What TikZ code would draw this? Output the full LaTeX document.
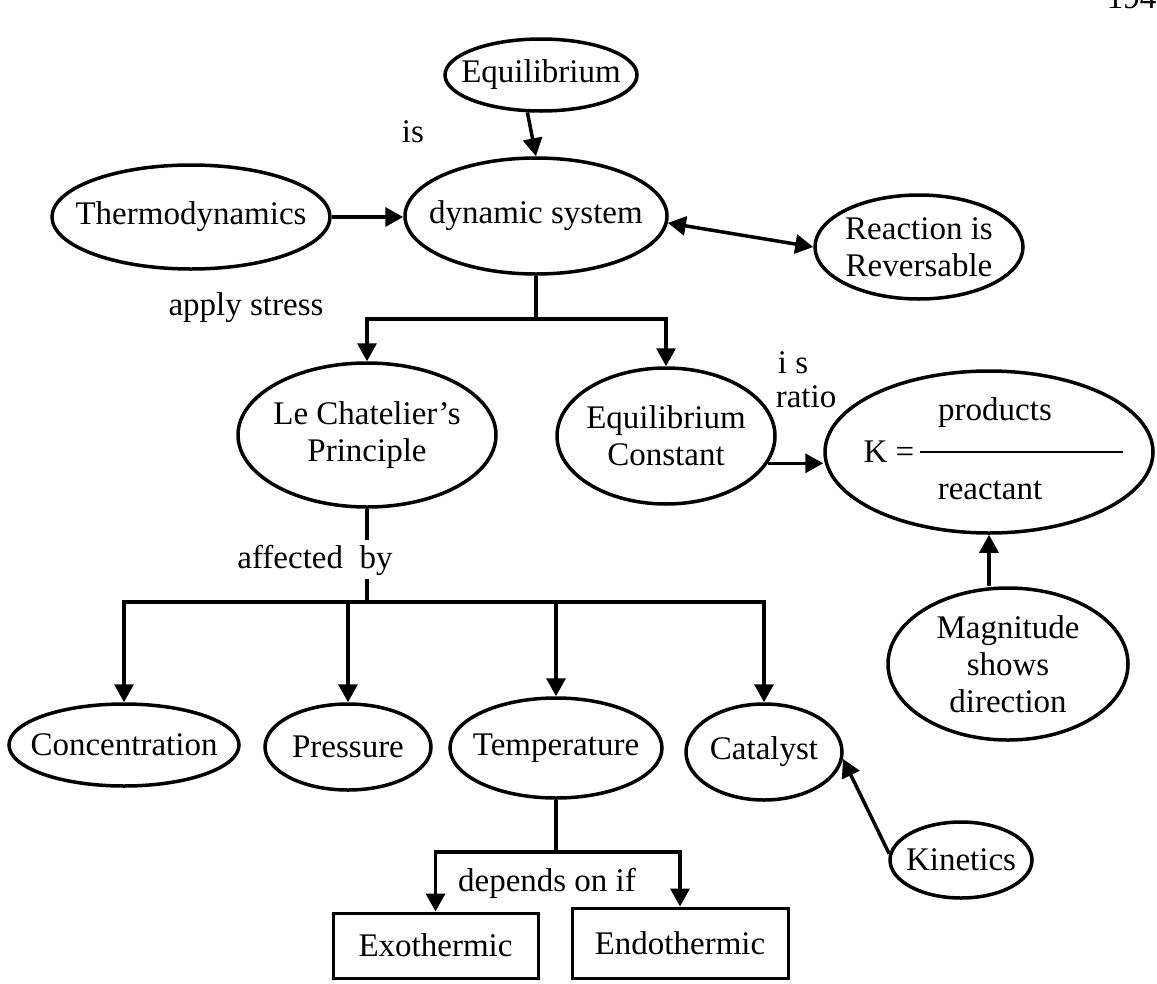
\documentclass[tikz,border=0pt]{standalone}
\usepackage{fontspec}
\setmainfont{Liberation Serif}
\usetikzlibrary{shapes.geometric,arrows.meta,calc}

\begin{document}
\begin{tikzpicture}[x=1pt,y=-1pt,
  every node/.style={font=\fontsize{33}{37}\selectfont},
  oval/.style={ellipse,draw,line width=3.5pt,inner sep=0pt},
  txt/.style={inner sep=0pt,align=center},
  rbox/.style={rectangle,draw,line width=3pt,inner sep=0pt},
  conn/.style={line width=3.5pt},
  arr/.style={conn,-{Triangle[length=18pt,width=19pt]}},
  darr/.style={conn,{Triangle[length=18pt,width=19pt]}-{Triangle[length=18pt,width=19pt]}}]

\useasboundingbox (0,0) rectangle (1157,983);
\fill[white] (0,0) rectangle (1157,983);

% page number, mostly above the page edge
\node[anchor=base east] (pg) at (1160,8) {194};

% ovals (fixed outlines) with their texts
\node[oval,minimum width=192pt,minimum height=72pt]  (eq)     at (541,75)  {};
\node[txt] (eq-t) at (eq) {Equilibrium};
\node[oval,minimum width=278pt,minimum height=104pt] (thermo) at (191,217) {};
\node[txt] (thermo-t) at (thermo) {Thermodynamics};
\node[oval,minimum width=262pt,minimum height=116pt] (dyn)    at (536,216) {};
\node[txt] (dyn-t) at (dyn) {dynamic system};
\node[oval,minimum width=208pt,minimum height=104pt] (rev)    at (919,247) {};
\node[txt] (rev-t) at (rev) {Reaction is\\Reversable};
\node[oval,minimum width=258pt,minimum height=144pt] (lec)    at (367,435) {};
\node[txt] (lec-t) at (lec) {Le Chatelier's\\Principle};
\node[oval,minimum width=218pt,minimum height=136pt] (eqc)    at (666,436) {};
\node[txt] (eqc-t) at (eqc) {Equilibrium\\Constant};
\node[oval,minimum width=328pt,minimum height=162pt] (kr)     at (989,452) {};
\node[oval,minimum width=240pt,minimum height=152pt] (mag)    at (1008,664) {};
\node[txt] (mag-t) at (mag) {Magnitude\\shows\\direction};

\node[oval,minimum width=230pt,minimum height=82pt]  (conc) at (124,745) {};
\node[txt] (conc-t) at (conc) {Concentration};
\node[oval,minimum width=166pt,minimum height=86pt]  (pres) at (348,747) {};
\node[txt] (pres-t) at (pres) {Pressure};
\node[oval,minimum width=212pt,minimum height=100pt] (temp) at (556,748) {};
\node[txt] (temp-t) at (temp) {Temperature};
\node[oval,minimum width=156pt,minimum height=96pt]  (cat)  at (764,752) {};
\node[txt] (cat-t) at (cat) {Catalyst};
\node[oval,minimum width=142pt,minimum height=76pt]  (kin)  at (961,860) {};
\node[txt] (kin-t) at (kin) {Kinetics};

% boxes
\node[rbox,minimum width=205pt,minimum height=65pt] (exo)  at (435.5,945.5) {Exothermic};
\node[rbox,minimum width=216pt,minimum height=70pt] (endo) at (680,943) {Endothermic};

% the ratio inside K
\node[txt] (keq)  at (889,452) {K =};
\node[txt] (prod) at (995,413) {products};
\node[txt] (reac) at (990,490) {reactant};
\draw[line width=2pt] ($(kr.center)+(-69,0)$) -- ($(kr.center)+(134,0)$);

% link labels
\node[txt] (l-is)     at (413,132) {is};
\node[txt] (l-stress) at (246,308) {apply stress};
\node[txt] (l-is2)    at (793,363) {i s};
\node[txt] (l-ratio)  at (806,397) {ratio};
\node[txt] (l-aff)    at (315,560) {affected~~by};
\node[txt] (l-dep)    at (547,883) {depends on if};

% connectors
\draw[arr]  (eq.250) -- (dyn.north);
\draw[arr]  (thermo.east) -- (thermo.east -| dyn.west);
\draw[darr] (dyn.-3) -- (rev.west);

\draw[conn] (dyn.south) -- ++(0,43) coordinate (j1);
\draw[arr]  (j1) -| (lec.north);
\draw[arr]  (j1) -| (eqc.north);

\draw[arr]  (eqc.-15) -- (eqc.-15 -| kr.west);
\draw[arr]  (mag.north -| kr.south) -- (kr.south);

\draw[conn] (lec.south) -- ++(0,31);
\draw[conn] (lec.south) ++(0,70) -- ++(0,23) coordinate (j2);
\draw[arr]  (j2) -| (conc.north);
\draw[arr]  (j2) -| (pres.north);
\draw[arr]  (j2) -| (temp.north);
\draw[arr]  (j2) -| (cat.north);

\draw[arr]  (kin.175) -- (cat.-5);

\draw[conn] (temp.south) -- ++(0,52) coordinate (j3);
\draw[arr]  (j3) -| (exo.north);
\draw[arr]  (j3) -| (endo.north);
\end{tikzpicture}
\end{document}
